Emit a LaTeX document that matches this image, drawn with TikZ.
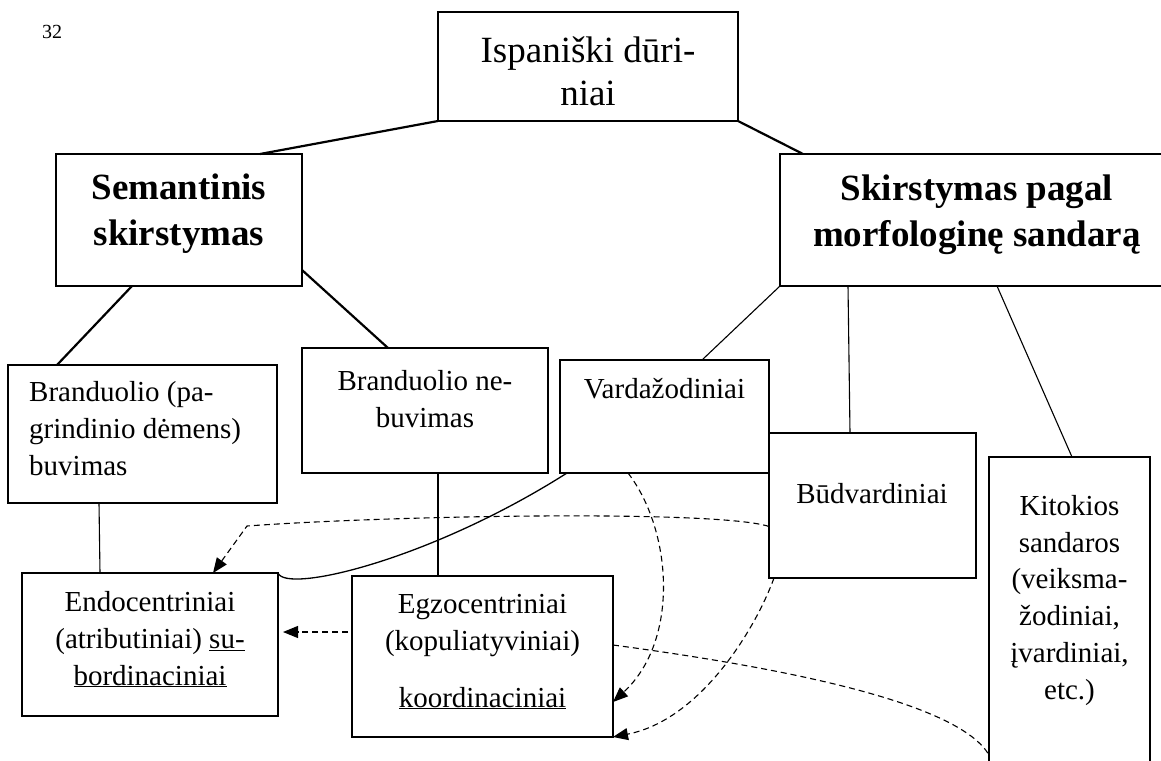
\documentclass[tikz,border=0pt]{standalone}
\usepackage{fontspec}
\setmainfont{Liberation Serif}
\usetikzlibrary{arrows.meta}
\begin{document}
\begin{tikzpicture}[x=1pt,y=-1pt,
  box/.style={draw, line width=2.2pt, inner sep=0pt, outer sep=0pt, anchor=north west},
  bigtxt/.style={font=\fontsize{37}{43}\selectfont, align=center, inner sep=0pt, anchor=base},
  boldtxt/.style={font=\fontsize{37}{46}\selectfont\bfseries, align=center, inner sep=0pt, anchor=base},
  smalltxt/.style={font=\fontsize{29}{36.7}\selectfont, align=center, inner sep=0pt, anchor=base},
  thickline/.style={line width=2.2pt},
  thinline/.style={line width=1.1pt},
  dashline/.style={line width=1.1pt, dash pattern=on 6pt off 4pt},
  tip/.style={-{Triangle[length=15pt,width=12pt]}}
]
\useasboundingbox (0,0) rectangle (1161,760);

% page number
\node[font=\fontsize{20}{24}\selectfont, inner sep=0pt, anchor=base west] (pg) at (42,38) {32};

% boxes
\node[box, minimum width=300pt, minimum height=109pt] (top) at (438,12) {};
\node[box, minimum width=246pt, minimum height=132pt] (sem) at (56,154) {};
\node[box, minimum width=394pt, minimum height=132pt] (skirst) at (780,154) {};
\node[box, minimum width=269pt, minimum height=138pt] (bb) at (8,365) {};
\node[box, minimum width=246pt, minimum height=125pt] (bn) at (302,348) {};
\node[box, minimum width=209pt, minimum height=113pt] (vard) at (560,360) {};
\node[box, minimum width=207pt, minimum height=145pt] (budv) at (769,433) {};
\node[box, minimum width=161pt, minimum height=360pt] (kit) at (989,457) {};
\node[box, minimum width=256pt, minimum height=143pt] (endo) at (22,573) {};
\node[box, minimum width=261pt, minimum height=161pt] (egzo) at (352,576) {};

% texts (anchor base = baseline of the last line)
\node[bigtxt] (tTop) at (588,105) {Ispaniški dūri-\\niai};
\node[boldtxt] (tSem) at (179,245) {Semantinis\\skirstymas};
\node[boldtxt] (tSkirst) at (977,246) {Skirstymas pagal\\morfologinę sandarą};
\node[smalltxt, align=left, anchor=base west] (tBb) at (29,475) {Branduolio (pa-\\grindinio dėmens)\\buvimas};
\node[smalltxt] (tBn) at (425,427) {Branduolio ne-\\buvimas};
\node[smalltxt] (tVard) at (664.5,398) {Vardažodiniai};
\node[smalltxt] (tBudv) at (872,503) {Būdvardiniai};
\node[smalltxt] (tKit) at (1069.5,699) {Kitokios\\sandaros\\(veiksma-\\žodiniai,\\įvardiniai,\\etc.)};
\node[smalltxt] (tEndo) at (150,685) {Endocentriniai\\(atributiniai) \underline{su-}\\\underline{bordinaciniai}};
\node[smalltxt] (tEgzo) at (482.5,707) {Egzocentriniai\\(kopuliatyviniai)\\[20pt]\underline{koordinaciniai}};

% tree connectors
\draw[thickline] (top.south west) -- ([xshift=81pt]sem.north);
\draw[thickline] (top.south east) -- ([xshift=23pt]skirst.north west);
\draw[thickline] ([xshift=76pt]sem.south west) -- ([xshift=49pt]bb.north west);
\draw[thickline] ([yshift=16pt]sem.south east) -- ([xshift=86pt]bn.north west);
\draw[thinline] (skirst.south west) -- ([xshift=142pt]vard.north west);
\draw[thinline] ([xshift=68pt]skirst.south west) -- ([xshift=81pt]budv.north west);
\draw[thinline] ([xshift=217pt]skirst.south west) -- ([xshift=83pt]kit.north west);
\draw[thinline] ([xshift=91pt]bb.south west) -- ([xshift=78pt]endo.north west);
\draw[thinline] ([xshift=136pt]bn.south west) -- ([xshift=86pt]egzo.north west);

% solid curve
\draw[line width=1.3pt] (endo.north east) .. controls (286,594) and (430,560) .. ([xshift=7pt]vard.south west);

% dashed arrows
\coordinate (bend) at (247,526);
\draw[dashline, tip] ([yshift=-21pt]budv.west) .. controls (720,510) and (400,515) .. (bend) -- ([xshift=191pt]endo.north west);
\draw[dashline, tip, shorten <=4pt, shorten >=5pt] ([yshift=24.5pt]egzo.west) -- ([yshift=12.5pt]endo.east);
\draw[dashline, tip] ([xshift=68pt]vard.south west) .. controls (672,530) and (680,640) .. ([yshift=-45.5pt]egzo.east);
\draw[dashline, tip] ([xshift=5pt]budv.south west) .. controls (755,630) and (700,720) .. (egzo.south east);
\draw[dashline] ([yshift=11.5pt]egzo.east) .. controls (800,670) and (960,705) .. ([yshift=-118pt]kit.west);
\end{tikzpicture}
\end{document}
